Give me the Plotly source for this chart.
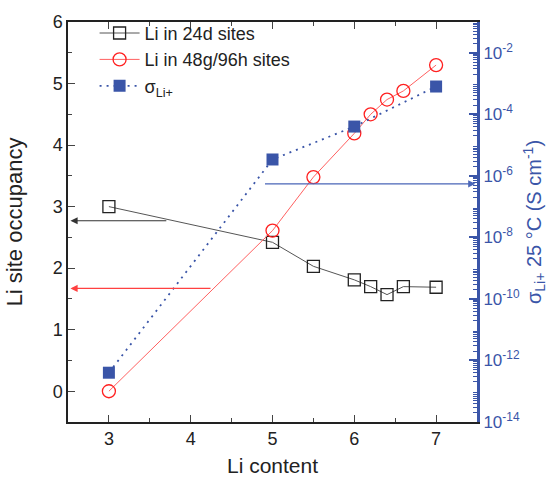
import plotly.graph_objects as go

li_content = [3, 5, 5.5, 6, 6.2, 6.4, 6.6, 7]
occ_24d = [3.0, 2.42, 2.03, 1.81, 1.70, 1.57, 1.70, 1.69]
occ_48g96h = [0.0, 2.61, 3.48, 4.19, 4.50, 4.74, 4.88, 5.30]
sigma_x = [3, 5, 6, 7]
sigma = [4e-13, 3.4e-6, 4e-5, 8e-4]
right_tick_exps = [-14, -12, -10, -8, -6, -4, -2]

BLUE = "#3a55a8"
FONT = "Liberation Sans, Arial, sans-serif"

fig = go.Figure()
fig.add_trace(go.Scatter(
    x=li_content, y=occ_24d, name="Li in 24d sites", mode="lines+markers",
    line=dict(color="#555555", width=1),
    marker=dict(symbol="square-open", size=12, color="#222222", line=dict(width=1.3)),
))
fig.add_trace(go.Scatter(
    x=li_content, y=occ_48g96h, name="Li in 48g/96h sites", mode="lines+markers",
    line=dict(color="#ff6060", width=1),
    marker=dict(symbol="circle-open", size=13, color="#ff2020", line=dict(width=1.3)),
))
fig.add_trace(go.Scatter(
    x=sigma_x, y=sigma, name="σ<sub>Li+</sub>", mode="lines+markers", yaxis="y2",
    line=dict(color=BLUE, width=1.8, dash="2px,5px"),
    marker=dict(symbol="square", size=12, color=BLUE),
))

tickvals = [10.0 ** d for d in right_tick_exps]
ticktext = ["10<sup>%d</sup>" % d for d in right_tick_exps]
odd_vals = [10.0 ** (d + 1) for d in right_tick_exps]
minor_vals = [m * 10.0 ** d for d in range(-14, -1) for m in range(2, 10)]

fig.update_layout(
    width=555, height=486,
    margin=dict(l=68, r=78, t=18, b=55),
    paper_bgcolor="white", plot_bgcolor="white",
    font=dict(family=FONT, size=18, color="#222222"),
    showlegend=True,
    legend=dict(x=0.065, y=1.018, xanchor="left", yanchor="top", bgcolor="rgba(0,0,0,0)",
                font=dict(size=18), tracegroupgap=0, itemwidth=40),
    xaxis=dict(range=[2.5, 7.5], tickvals=[3, 4, 5, 6, 7], ticks="inside", ticklen=7,
               showline=True, linecolor="#222222", linewidth=1.5, mirror="ticks",
               showgrid=False, zeroline=False,
               minor=dict(ticks="inside", ticklen=4, dtick=0.5, showgrid=False),
               title=dict(text="Li content", font=dict(size=21), standoff=10)),
    yaxis=dict(range=[-0.5, 6], tickvals=[0, 1, 2, 3, 4, 5, 6], ticks="inside", ticklen=7,
               showline=True, linecolor="#222222", linewidth=1.5,
               showgrid=False, zeroline=False,
               minor=dict(ticks="inside", ticklen=4, dtick=0.5, showgrid=False),
               title=dict(text="Li site occupancy", font=dict(size=22), standoff=24)),
    yaxis2=dict(type="log", range=[-14, -1], overlaying="y", side="right",
                tickmode="array", tickvals=tickvals, ticktext=ticktext,
                ticks="inside", ticklen=8, tickwidth=2, tickcolor=BLUE,
                showline=True, linecolor=BLUE, linewidth=3,
                showgrid=False, zeroline=False,
                tickfont=dict(color=BLUE, size=17),
                minor=dict(tickmode="array", tickvals=minor_vals, ticks="inside",
                           ticklen=4, tickcolor=BLUE, tickwidth=1, showgrid=False),
                title=dict(text="σ<sub>Li+</sub> 25 °C (S cm<sup>-1</sup>)",
                           font=dict(size=20, color=BLUE), standoff=6)),
    yaxis3=dict(type="log", range=[-14, -1], overlaying="y", side="right",
                tickmode="array", tickvals=odd_vals, showticklabels=False,
                ticks="inside", ticklen=8, tickwidth=2, tickcolor=BLUE,
                showline=False, showgrid=False, zeroline=False),
)

arrows = [
    (2.53, 3.72, 2.77, "#333333"),
    (2.53, 4.26, 1.67, "#ff4040"),
    (7.48, 4.89, 3.37, "#4a66b8"),
]
for hx, tx, yy, col in arrows:
    fig.add_annotation(x=hx, y=yy, ax=tx, ay=yy, xref="x", yref="y", axref="x", ayref="y",
                       showarrow=True, arrowhead=2, arrowsize=1.2, arrowwidth=1.2,
                       arrowcolor=col, text="")

fig.write_html("out.html")
